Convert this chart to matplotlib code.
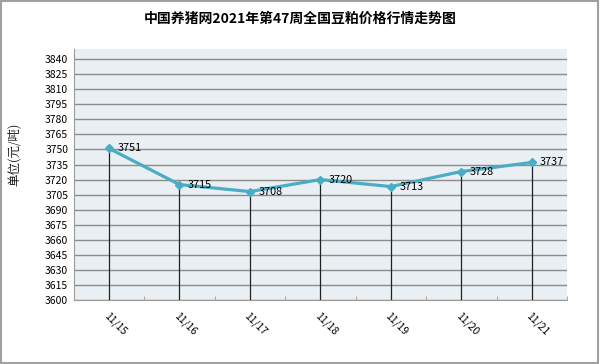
import numpy as np
import matplotlib
matplotlib.use('Agg')
import matplotlib.pyplot as plt
from matplotlib.patches import Rectangle

plt.rcParams['font.family'] = ['Noto Sans CJK SC', 'DejaVu Sans']

dates = ['11/15', '11/16', '11/17', '11/18', '11/19', '11/20', '11/21']
prices = [3751, 3715, 3708, 3720, 3713, 3728, 3737]
title = '中国养猪网2021年第47周全国豆粕价格行情走势图'
ylabel = '单位(元/吨)'

fig = plt.figure(figsize=(6, 3.64), dpi=100)
ax = fig.add_axes([0.123, 0.176, 0.822, 0.689])
ax.set_facecolor('#E9EFF3')

x = np.arange(len(dates))
ax.set_xlim(-0.5, len(dates) - 0.5)
ax.set_ylim(3600, 3850)
ax.set_yticks(np.arange(3600, 3841, 15))
ax.tick_params(axis='y', length=0, labelsize=7.5, pad=4)
ax.yaxis.grid(True, color='#8C8C8C', lw=1)
ax.set_axisbelow(True)

ax.set_xticks(x)
ax.set_xticklabels(dates, rotation=-45, ha='left', va='top', rotation_mode='anchor', fontsize=7.5)
ax.tick_params(axis='x', length=0, pad=8)
ax.set_xticks(np.arange(-0.5, len(dates)), minor=True)
ax.tick_params(axis='x', which='minor', direction='in', length=3, color='#9A9A9A')

for s in ['top', 'right']:
    ax.spines[s].set_visible(False)
for s in ['left', 'bottom']:
    ax.spines[s].set_color('#9A9A9A')

ax.vlines(x, 3600, prices, color='#222222', lw=0.9, zorder=2)
ax.plot(x, prices, color='#4BACC6', lw=2.3, marker='D', ms=4, zorder=3)
for xi, p in zip(x, prices):
    ax.annotate(str(p), (xi, p), xytext=(6, 0), textcoords='offset points',
                ha='left', va='center', fontsize=7.8, zorder=4)

ax.set_ylabel(ylabel, fontsize=9, family=['Noto Serif CJK SC', 'Noto Sans CJK SC', 'DejaVu Sans'])
ax.yaxis.set_label_coords(-0.106, 0.58)
fig.text(0.5, 0.948, title, ha='center', va='center', fontsize=10, fontweight='bold')

fig.patches.append(Rectangle((0.002, 0.003), 0.995, 0.994, transform=fig.transFigure,
                             fill=False, edgecolor='#A0A0A0', lw=1.5))

fig.savefig('out.png', dpi=100)
